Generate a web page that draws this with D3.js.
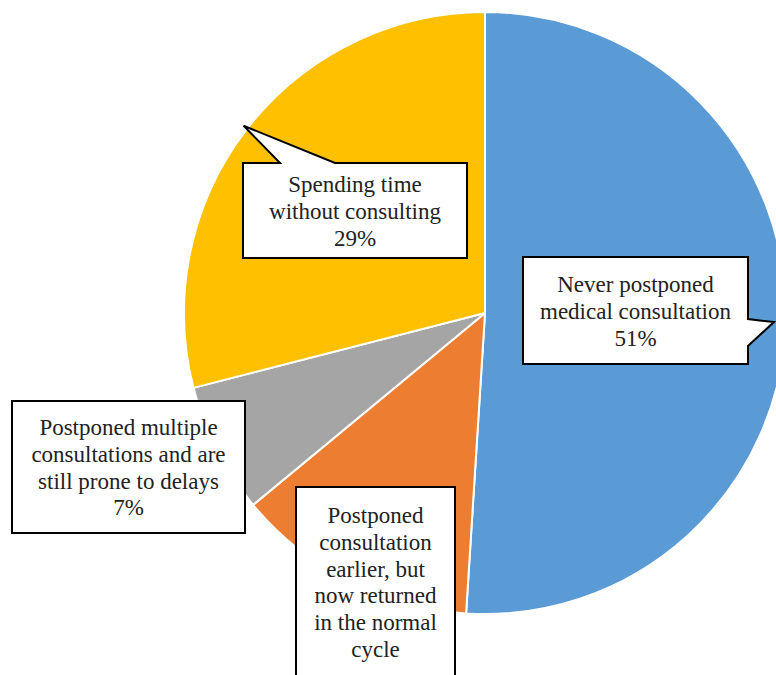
<!DOCTYPE html>
<html>
<head>
<meta charset="utf-8">
<script src="https://cdn.jsdelivr.net/npm/d3@7"></script>
<style>
  body { margin: 0; background: #fff; }
</style>
</head>
<body>
<svg id="chart" width="776" height="675"></svg>
<script>
// Data
var categories = [
    "Never postponed medical consultation",
    "Postponed consultation earlier, but now returned in the normal cycle",
    "Postponed multiple consultations and are still prone to delays",
    "Spending time without consulting"
];
var values = [51, 13, 7, 29];
var colors = ["#5b9bd5", "#ed7d31", "#a5a5a5", "#ffc000"];
var labelLines = [
    ["Never postponed", "medical consultation", "51%"],
    ["Postponed", "consultation", "earlier, but", "now returned", "in the normal", "cycle"],
    ["Postponed multiple", "consultations and are", "still prone to delays", "7%"],
    ["Spending time", "without consulting", "29%"]
];

// Layout
var width = 776;
var height = 675;
var cx = 485;
var cy = 313;
var radius = 301;
var line_height = 26.8;

// callout boxes: rect, first baseline offset, optional tail
var boxes = [
    {x: 523, y: 257, w: 225, h: 107, first: 35, tail: {side: "right", a: 319, b: 346, r: 0.96}},
    {x: 296, y: 487, w: 159, h: 200, first: 36, tail: null},
    {x: 12, y: 401, w: 233, h: 132, first: 34, tail: null},
    {x: 243, y: 163, w: 224, h: 95, first: 29, tail: {side: "top", a: 280, b: 335, r: 1.015}}
];

var svg = d3.select("#chart");

var pie = d3.pie().sort(null).value(d => d);
var arcs = pie(values);
var arc = d3.arc().innerRadius(0).outerRadius(radius);

var g = svg.append("g").attr("transform", "translate(" + cx + "," + cy + ")");
g.selectAll("path")
    .data(arcs)
    .enter()
    .append("path")
    .attr("d", arc)
    .attr("fill", (d, i) => colors[i])
    .attr("stroke", "#fff")
    .attr("stroke-width", 2);

/**
 * Builds the outline of a callout box, with a pointer toward tip.
 */
function calloutPath(b, tip)
{
    var x0 = b.x, y0 = b.y, x1 = b.x + b.w, y1 = b.y + b.h;
    var pts = [];
    if (b.tail && b.tail.side === "top")
        pts = [[x0, y0], [b.tail.a, y0], tip, [b.tail.b, y0], [x1, y0], [x1, y1], [x0, y1]];
    else if (b.tail && b.tail.side === "right")
        pts = [[x0, y0], [x1, y0], [x1, b.tail.a], tip, [x1, b.tail.b], [x1, y1], [x0, y1]];
    else
        pts = [[x0, y0], [x1, y0], [x1, y1], [x0, y1]];
    return "M" + pts.map(p => p.join(",")).join("L") + "Z";
}

var labels = svg.append("g").attr("id", "labels");
arcs.forEach(function(d, i) {
    var b = boxes[i];
    var tip = null;
    if (b.tail)
    {
        var mid = (d.startAngle + d.endAngle) / 2;
        var p = d3.pointRadial(mid, radius * b.tail.r);
        tip = [cx + p[0], cy + p[1]];
    }
    var lg = labels.append("g");
    lg.append("path")
        .attr("d", calloutPath(b, tip))
        .attr("fill", "#fff")
        .attr("stroke", "#000")
        .attr("stroke-width", 2)
        .attr("stroke-linejoin", "miter");
    lg.selectAll("text")
        .data(labelLines[i])
        .enter()
        .append("text")
        .style("font-family", "'Liberation Serif'")
        .style("font-size", "23px")
        .attr("fill", "#222")
        .attr("text-anchor", "middle")
        .attr("x", b.x + b.w / 2)
        .attr("y", (t, j) => b.y + b.first + j * line_height)
        .text(t => t);
});
</script>
</body>
</html>
